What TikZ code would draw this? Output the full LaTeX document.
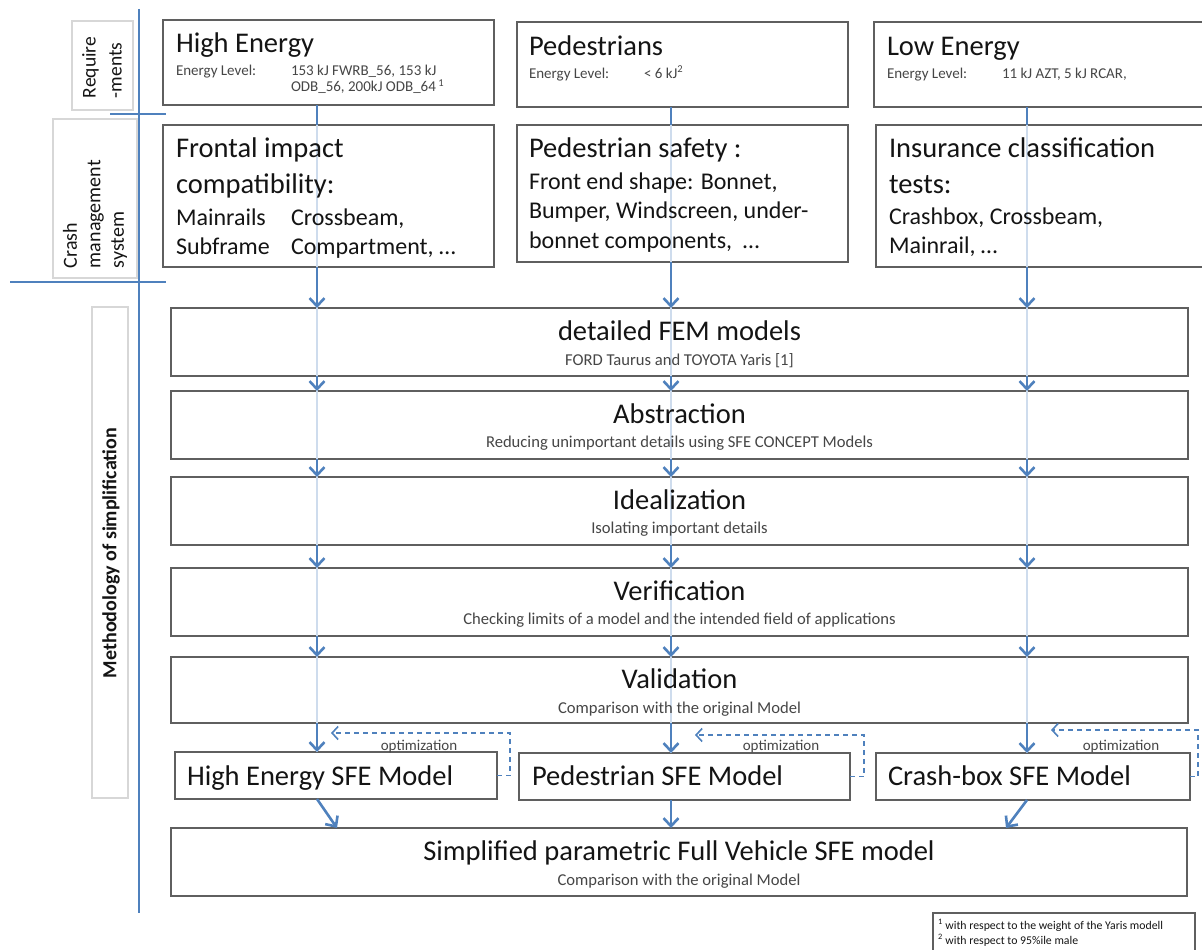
\documentclass[tikz,border=0pt]{standalone}
\usepackage{fontspec}
\setmainfont{Carlito}
\usetikzlibrary{arrows.meta}
\definecolor{arrblue}{RGB}{79,129,189}
\definecolor{boxgray}{RGB}{95,95,95}
\definecolor{sidegray}{RGB}{215,215,215}
\definecolor{txtgray}{RGB}{70,70,70}
\definecolor{txtdark}{RGB}{20,20,20}
\begin{document}
\begin{tikzpicture}[x=1pt,y=-1pt,
  box/.style={draw=boxgray, line width=1.6pt, fill=white, inner sep=0pt, outer sep=0pt, anchor=north west},
  sidebox/.style={draw=sidegray, line width=1.2pt, fill=white, inner sep=0pt, outer sep=0pt, anchor=north west},
  conn/.style={draw=arrblue, line width=2.6pt},
  arr/.style={conn, -{Straight Barb[length=8pt,width=15pt]}},
  faint/.style={draw=arrblue!28, line width=2pt},
  bluerule/.style={draw=arrblue, line width=2.8pt},
  optline/.style={draw=arrblue, line width=1.6pt, dash pattern=on 5pt off 4pt, -{Straight Barb[length=6pt,width=13pt]}},
  txt/.style={inner sep=0pt, outer sep=0pt, text=txtdark},
  ttl/.style={txt, font=\fontsize{28.5}{32}\selectfont},
  body/.style={txt, font=\fontsize{24}{28}\selectfont},
  small/.style={inner sep=0pt, outer sep=0pt, text=txtgray, font=\fontsize{15}{18}\selectfont},
  sub/.style={inner sep=0pt, outer sep=0pt, text=txtgray, font=\fontsize{16.6}{19}\selectfont},
  side/.style={inner sep=0pt, outer sep=0pt, text=txtdark, rotate=90, align=left},
]
\useasboundingbox (0,0) rectangle (1202,950);

% column coordinates
\coordinate (cA) at (317,0);
\coordinate (cB) at (671,0);
\coordinate (cC) at (1027,0);
\coordinate (dA) at (337,0);
\coordinate (dC) at (1006,0);

% side label boxes
\node[sidebox, minimum width=61pt, minimum height=89pt] (req) at (72,21) {};
\node[sidebox, minimum width=84pt, minimum height=159pt] (cms) at (53,119) {};
\node[sidebox, minimum width=36pt, minimum height=491pt] (meth) at (92,307) {};
\node[side, anchor=west, font=\fontsize{19.5}{26}\selectfont] (reqT) at (102,98) {Require\\-ments};
\node[side, anchor=west, font=\fontsize{20}{23.5}\selectfont] (cmsT) at (95,268) {Crash\\management\\system};
\node[side, anchor=center, font=\bfseries\fontsize{20}{22}\selectfont] (methT) at (111,553) {Methodology of simplification};

% blue rules
\coordinate (vTop) at (139,9);
\coordinate (vBot) at (139,913);
\coordinate (h1a) at (110,114);
\coordinate (h1b) at (166,114);
\coordinate (h2a) at (10,282);
\coordinate (h2b) at (166,282);
\draw[bluerule] (vTop) -- (vBot);
\draw[bluerule] (h1a) -- (h1b);
\draw[bluerule] (h2a) -- (h2b);

% top row boxes
\node[box, minimum width=331pt, minimum height=85pt] (he) at (163,20) {};
\node[box, minimum width=331pt, minimum height=85pt] (ped) at (517,22) {};
\node[box, minimum width=332pt, minimum height=85pt] (le) at (874,22) {};
\node[box, minimum width=331pt, minimum height=142pt] (frontal) at (163,125) {};
\node[box, minimum width=331pt, minimum height=137pt] (pedsafe) at (517,125) {};
\node[box, minimum width=330pt, minimum height=142pt] (ins) at (876,125) {};

% main boxes
\node[box, minimum width=1017pt, minimum height=68pt] (fem) at (171,308) {};
\node[box, minimum width=1017pt, minimum height=68pt] (abs) at (171,391) {};
\node[box, minimum width=1017pt, minimum height=68pt] (ideal) at (171,477) {};
\node[box, minimum width=1017pt, minimum height=68pt] (verif) at (171,568) {};
\node[box, minimum width=1017pt, minimum height=66pt] (valid) at (171,657) {};
\node[box, minimum width=322pt, minimum height=47pt] (hesfe) at (175,752) {};
\node[box, minimum width=331pt, minimum height=47pt] (pedsfe) at (519,753) {};
\node[box, minimum width=314pt, minimum height=47pt] (crashsfe) at (876,753) {};
\node[box, minimum width=1016pt, minimum height=68pt] (simp) at (171,828) {};
\node[box, line width=1.1pt, minimum width=262pt, minimum height=45pt] (fn) at (933,913) {};

% faint column lines through the boxes
\draw[faint] (he.south -| cA) -- (hesfe.north -| cA);
\draw[faint] (ped.south -| cB) -- (pedsfe.north -| cB);
\draw[faint] (le.south -| cC) -- (crashsfe.north -| cC);

% top row texts
\node[ttl, anchor=base west] (heT) at (176,53) {High Energy};
\node[small, anchor=base west] (heL) at (176,76) {Energy Level:};
\node[small, anchor=base west] (heV1) at (291,76) {153 kJ FWRB\_56, 153 kJ};
\node[small, anchor=base west] (heV2) at (291,92) {ODB\_56, 200kJ ODB\_64\,\textsuperscript{1}};

\node[ttl, anchor=base west] (pedT) at (529,56) {Pedestrians};
\node[small, anchor=base west] (pedL) at (529,78) {Energy Level:};
\node[small, anchor=base west] (pedV) at (644,78) {< 6 kJ\textsuperscript{2}};

\node[ttl, anchor=base west] (leT) at (887,56) {Low Energy};
\node[small, anchor=base west] (leL) at (887,78) {Energy Level:};
\node[small, anchor=base west] (leV) at (1002,78) {11 kJ AZT, 5 kJ RCAR,};

\node[ttl, anchor=base west] (fr1) at (176,157) {Frontal impact};
\node[ttl, anchor=base west] (fr2) at (176,193) {compatibility:};
\node[body, anchor=base west] (fr3a) at (176,225) {Mainrails};
\node[body, anchor=base west] (fr3b) at (291,225) {Crossbeam,};
\node[body, anchor=base west] (fr4a) at (176,254) {Subframe};
\node[body, anchor=base west] (fr4b) at (291,254) {Compartment, …};

\node[ttl, anchor=base west] (ps1) at (529,157) {Pedestrian safety :};
\node[body, anchor=base west] (ps2) at (529,189) {Front end shape: Bonnet,};
\node[body, anchor=base west] (ps3) at (529,218) {Bumper, Windscreen, under-};
\node[body, anchor=base west] (ps4) at (529,248) {bonnet components,\ \ …};

\node[ttl, anchor=base west] (in1) at (889,157) {Insurance classification};
\node[ttl, anchor=base west] (in2) at (889,193) {tests:};
\node[body, anchor=base west] (in3) at (889,224) {Crashbox, Crossbeam,};
\node[body, anchor=base west] (in4) at (889,253) {Mainrail, …};

% main box texts
\node[ttl, anchor=base] (femT) at (679.5,340) {detailed FEM models};
\node[sub, anchor=base] (femS) at (679.5,365) {FORD Taurus and TOYOTA Yaris [1]};
\node[ttl, anchor=base] (absT) at (679.5,423) {Abstraction};
\node[sub, anchor=base] (absS) at (679.5,447.5) {Reducing unimportant details using SFE CONCEPT Models};
\node[ttl, anchor=base] (idT) at (679.5,509) {Idealization};
\node[sub, anchor=base] (idS) at (679.5,533.5) {Isolating important details};
\node[ttl, anchor=base] (veT) at (679.5,600) {Verification};
\node[sub, anchor=base] (veS) at (679.5,624.5) {Checking limits of a model and the intended field of applications};
\node[ttl, anchor=base] (vaT) at (679.5,688) {Validation};
\node[sub, anchor=base] (vaS) at (679.5,713) {Comparison with the original Model};

\node[ttl, anchor=base west] (hesfeT) at (187,785) {High Energy SFE Model};
\node[ttl, anchor=base west] (pedsfeT) at (532,785) {Pedestrian SFE Model};
\node[ttl, anchor=base west] (crashsfeT) at (888,785) {Crash-box SFE Model};

\node[ttl, anchor=base] (simpT) at (679,860) {Simplified parametric Full Vehicle SFE model};
\node[sub, anchor=base] (simpS) at (679,885) {Comparison with the original Model};

\node[small, anchor=base] (optA) at (419,750) {optimization};
\node[small, anchor=base] (optB) at (781,750) {optimization};
\node[small, anchor=base] (optC) at (1121,750) {optimization};

\node[txt, anchor=base west, font=\fontsize{11.8}{13}\selectfont] (fn1) at (938,929) {\textsuperscript{1} with respect to the weight of the Yaris modell};
\node[txt, anchor=base west, font=\fontsize{11.8}{13}\selectfont] (fn2) at (938,944) {\textsuperscript{2} with respect to 95\%ile male};

% connectors: top rows
\draw[conn] (he.south -| cA) -- (frontal.north -| cA);
\draw[conn] (ped.south -| cB) -- (pedsafe.north -| cB);
\draw[conn] (le.south -| cC) -- (ins.north -| cC);
\draw[arr] (frontal.south -| cA) -- (fem.north -| cA);
\draw[arr] (pedsafe.south -| cB) -- (fem.north -| cB);
\draw[arr] (ins.south -| cC) -- (fem.north -| cC);

% connectors: main chain
\foreach \a/\b in {fem/abs, abs/ideal, ideal/verif, verif/valid}{
  \draw[arr] (\a.south -| cA) -- (\b.north -| cA);
  \draw[arr] (\a.south -| cB) -- (\b.north -| cB);
  \draw[arr] (\a.south -| cC) -- (\b.north -| cC);
}
\draw[arr] (valid.south -| cA) -- (hesfe.north -| cA);
\draw[arr] (valid.south -| cB) -- (pedsfe.north -| cB);
\draw[arr] (valid.south -| cC) -- (crashsfe.north -| cC);

% SFE models to full vehicle
\draw[arr] (hesfe.south -| cA) -- (simp.north -| dA);
\draw[arr] (pedsfe.south -| cB) -- (simp.north -| cB);
\draw[arr] (crashsfe.south -| cC) -- (simp.north -| dC);

% optimization loops
\coordinate (oA) at (331,733);
\coordinate (oB) at (695,735);
\coordinate (oC) at (1051,730);
\draw[optline] (hesfe.east) -- ++(13,0) |- (oA);
\draw[optline] (pedsfe.east) -- ++(14,0) |- (oB);
\draw[optline] (crashsfe.east) -- ++(8,0) |- (oC);
\end{tikzpicture}
\end{document}
